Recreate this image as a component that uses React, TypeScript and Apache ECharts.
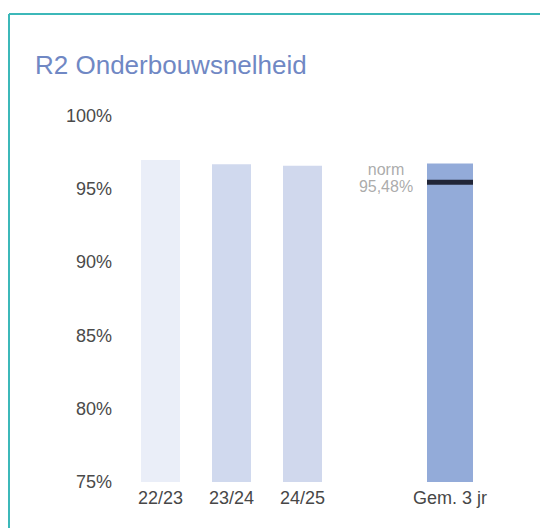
import React, { useEffect, useRef } from "react";
import * as echarts from "echarts";

const titleText = "R2 Onderbouwsnelheid";
const yearCategories = ["22/23", "23/24", "24/25"];
const yearValues = [97.0, 96.7, 96.6];
const yearColors = ["#eaeef8", "#d0d9ee", "#d0d8ed"];
const avgCategory = ["Gem. 3 jr"];
const avgValue = [96.75];
const normValue = 95.48;
const normLabel = "norm\n95,48%";
const yMin = 75;
const yMax = 100;
const yInterval = 5;

const FONT = "'Liberation Sans', Arial, sans-serif";

export default function App() {
  const ref = useRef<HTMLDivElement>(null);
  useEffect(() => {
    if (!ref.current) return;
    const chart = echarts.init(ref.current, null, { renderer: "svg" });
    const yCommon = {
      type: "value" as const,
      min: yMin,
      max: yMax,
      interval: yInterval,
      axisLine: { show: false },
      axisTick: { show: false },
      splitLine: { show: false },
    };
    const xCommon = {
      type: "category" as const,
      axisLine: { show: false },
      axisTick: { show: false },
      axisLabel: { fontSize: 18, color: "#474747", fontFamily: FONT, margin: 7 },
    };
    chart.setOption({
      animation: false,
      backgroundColor: "#ffffff",
      textStyle: { fontFamily: FONT },
      title: {
        text: titleText,
        left: 30,
        top: 47,
        textStyle: { fontSize: 26, fontWeight: "normal", color: "#7088c4", fontFamily: FONT },
      },
      graphic: [
        { type: "line", shape: { x1: 9, y1: 14, x2: 540, y2: 14 }, style: { stroke: "#3cb8b9", lineWidth: 2 } },
        { type: "line", shape: { x1: 9, y1: 14, x2: 9, y2: 528 }, style: { stroke: "#3cb8b9", lineWidth: 2 } },
      ],
      grid: [
        { left: 125, top: 116, width: 213, height: 366 },
        { left: 415, top: 116, width: 70, height: 366 },
      ],
      xAxis: [
        { ...xCommon, gridIndex: 0, data: yearCategories },
        { ...xCommon, gridIndex: 1, data: avgCategory },
      ],
      yAxis: [
        {
          ...yCommon,
          gridIndex: 0,
          axisLabel: { formatter: "{value}%", fontSize: 18, color: "#4a4a4a", fontFamily: FONT, margin: 13 },
        },
        { ...yCommon, gridIndex: 1, axisLabel: { show: false } },
      ],
      series: [
        {
          type: "bar",
          xAxisIndex: 0,
          yAxisIndex: 0,
          barWidth: 39,
          data: yearValues.map((v, i) => ({ value: v, itemStyle: { color: yearColors[i] } })),
        },
        {
          type: "bar",
          xAxisIndex: 1,
          yAxisIndex: 1,
          barWidth: 46,
          data: avgValue,
          itemStyle: { color: "#93abd9" },
        },
        {
          type: "scatter",
          xAxisIndex: 1,
          yAxisIndex: 1,
          symbol: "rect",
          symbolSize: [46, 5],
          itemStyle: { color: "#05050f" },
          data: [normValue],
          label: {
            show: true,
            position: "left",
            distance: 41,
            align: "center",
            verticalAlign: "middle",
            offset: [0, -4],
            formatter: normLabel,
            fontSize: 16,
            lineHeight: 17,
            color: "#959595",
            fontFamily: FONT,
          },
        },
      ],
    });
    return () => chart.dispose();
  }, []);
  return (
    <div
      ref={ref}
      style={{ position: "fixed", left: 0, top: 0, width: 540, height: 528 }}
    />
  );
}
